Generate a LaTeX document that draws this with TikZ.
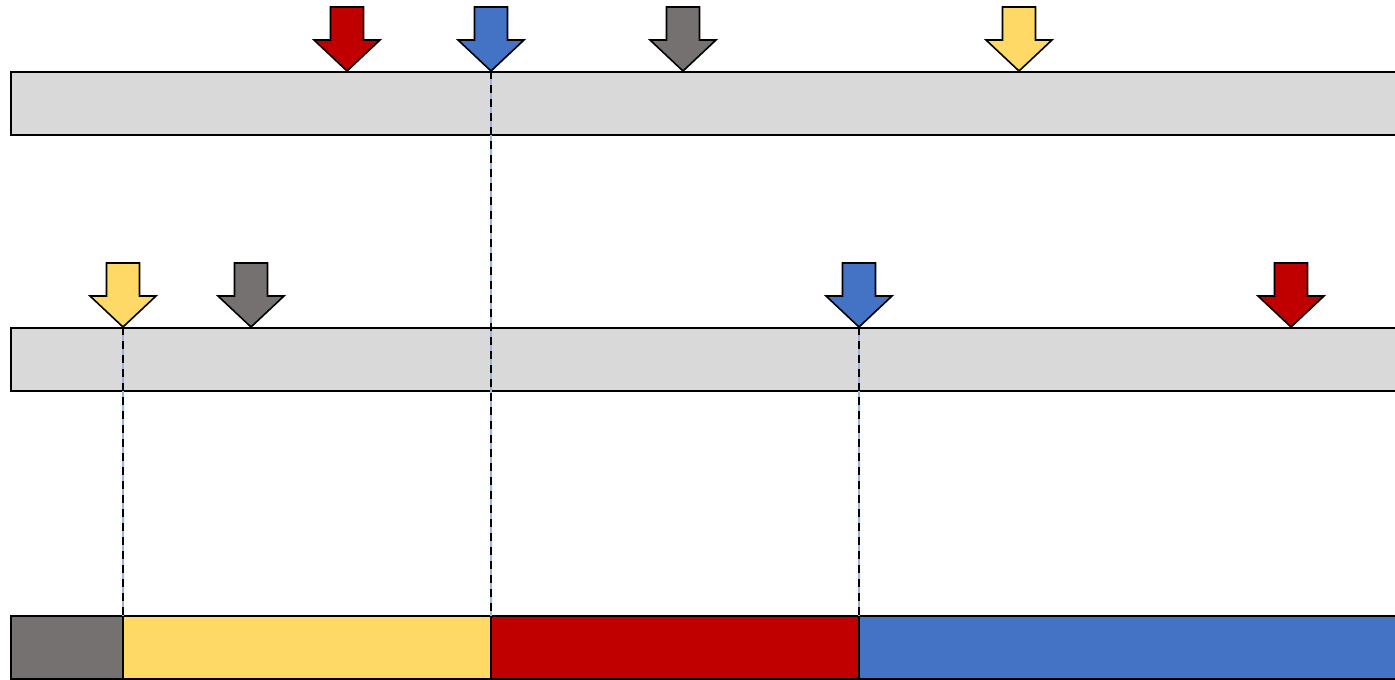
\documentclass[tikz,border=0pt]{standalone}
\usetikzlibrary{calc}
\definecolor{cred}{HTML}{C00000}
\definecolor{cblue}{HTML}{4472C4}
\definecolor{cgray}{HTML}{767171}
\definecolor{cyellow}{HTML}{FFD966}
\definecolor{cbar}{HTML}{D9D9D9}
\definecolor{cguide}{HTML}{9DB4E0}
\tikzset{
  barbox/.style={draw=black, line width=1.6pt, fill=cbar},
  segbox/.style={draw=black, line width=1.6pt},
  arrowshape/.style={draw=black, line width=1.6pt, line join=miter},
  guide/.style={draw=black, line width=1.6pt, dash pattern=on 8pt off 6pt,
    preaction={draw=cguide, line width=1.6pt, solid}},
}
\newcommand{\downarrowat}[3]{%
  \fill[#3] ($(#1)+(-16.5,-64)$) -- ($(#1)+(16.5,-64)$) -- ($(#1)+(16.5,-31)$) -- ($(#1)+(33,-31)$) -- (#1) -- ($(#1)+(-33,-31)$) -- ($(#1)+(-16.5,-31)$) -- cycle;
  \draw[arrowshape] ($(#1)+(-16.5,-64)$) -- ($(#1)+(16.5,-64)$) -- ($(#1)+(16.5,-31)$) -- ($(#1)+(33,-31)$) -- (#1) -- ($(#1)+(-33,-31)$) -- ($(#1)+(-16.5,-31)$) -- cycle;
  \coordinate (#2) at (#1);
}
\begin{document}
\begin{tikzpicture}[x=1pt,y=-1pt]
\useasboundingbox (0,0) rectangle (1395,680);
\clip (0,0) rectangle (1395,680);
% bars
\draw[barbox] (11,72) rectangle (1400,135);
\draw[barbox] (11,328) rectangle (1400,391);
% tips
\coordinate (t1r) at (347,71);
\coordinate (t1b) at (491,71);
\coordinate (t1g) at (683,71);
\coordinate (t1y) at (1019,71);
\coordinate (t2y) at (123,327);
\coordinate (t2g) at (251,327);
\coordinate (t2b) at (859,327);
\coordinate (t2r) at (1291,327);
% bottom segments
\draw[segbox, fill=cgray] (11,616) rectangle (123,679);
\draw[segbox, fill=cyellow] (123,616) rectangle (491,679);
\draw[segbox, fill=cred] (491,616) rectangle (859,679);
\draw[segbox, fill=cblue] (859,616) rectangle (1400,679);
\coordinate (s1) at (123,616);
\coordinate (s2) at (491,616);
\coordinate (s3) at (859,616);
% guides
\draw[guide] (t1b) -- (s2);
\draw[guide] (t2y) -- (s1);
\draw[guide] (t2b) -- (s3);
% arrows
\downarrowat{t1r}{a1r}{cred}
\downarrowat{t1b}{a1b}{cblue}
\downarrowat{t1g}{a1g}{cgray}
\downarrowat{t1y}{a1y}{cyellow}
\downarrowat{t2y}{a2y}{cyellow}
\downarrowat{t2g}{a2g}{cgray}
\downarrowat{t2b}{a2b}{cblue}
\downarrowat{t2r}{a2r}{cred}
\end{tikzpicture}
\end{document}
